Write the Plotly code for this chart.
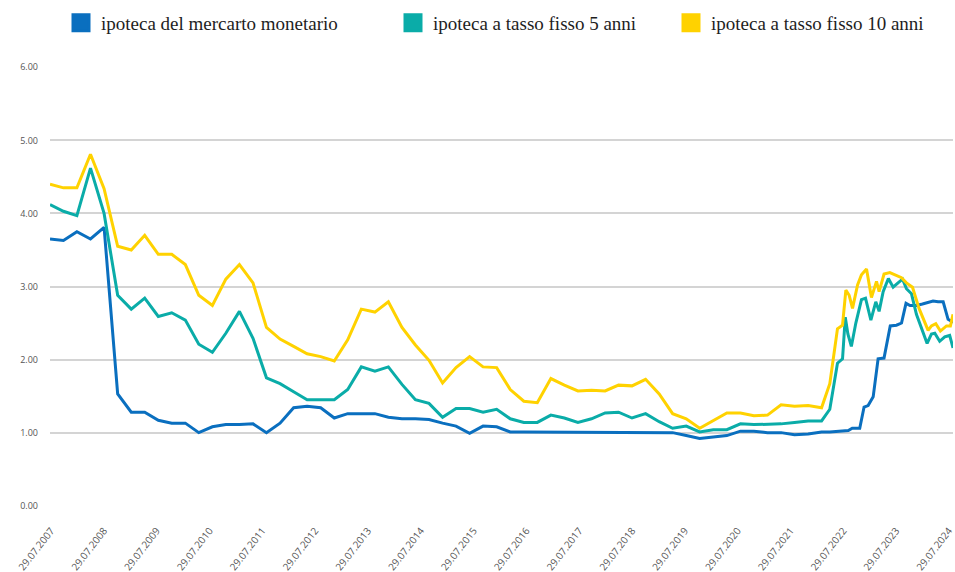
import plotly.graph_objects as go

# ---- data ----
quarter_dates = [
    "2007-07-29", "2007-10-30", "2008-01-31", "2008-05-04", "2008-08-06", "2008-11-08",
    "2009-02-10", "2009-05-14", "2009-08-16", "2009-11-17", "2010-02-19", "2010-05-23",
    "2010-08-25", "2010-11-26", "2011-02-28", "2011-06-02", "2011-09-03", "2011-12-06",
    "2012-03-09", "2012-06-10", "2012-09-12", "2012-12-15", "2013-03-18", "2013-06-20",
    "2013-09-22", "2013-12-24", "2014-03-28", "2014-06-29", "2014-10-01", "2015-01-03",
    "2015-04-06", "2015-07-09", "2015-10-10", "2016-01-12", "2016-04-15", "2016-07-18",
    "2016-10-19", "2017-01-21", "2017-04-24", "2017-07-27", "2017-10-29", "2018-01-31",
    "2018-05-04", "2018-08-05", "2018-11-07", "2019-02-09", "2019-05-13", "2019-08-15",
    "2019-11-16", "2020-02-18", "2020-05-22", "2020-08-24", "2020-11-25", "2021-02-27",
    "2021-06-01", "2021-09-02", "2021-12-05", "2022-03-08",
]

money_q = [
    3.65, 3.63, 3.75, 3.65, 3.81, 1.53, 1.28, 1.28, 1.17, 1.13, 1.13, 1.00, 1.08, 1.11, 1.11,
    1.12, 1.00, 1.13, 1.34, 1.36, 1.34, 1.20, 1.26, 1.26, 1.26, 1.21, 1.19, 1.19, 1.18, 1.13,
    1.09, 0.99, 1.09, 1.08, 1.01, 1.01, 1.01, 1.01, 1.01, 1.00, 1.00, 1.00, 1.00, 1.00, 1.00, 1.00,
    1.00, 0.96, 0.92, 0.94, 0.96, 1.02, 1.02, 1.00, 1.00, 0.97, 0.98, 1.01,
]
fixed5_q = [
    4.12, 4.03, 3.97, 4.62, 4.00, 2.88, 2.69, 2.84, 2.59, 2.64, 2.54, 2.21, 2.10, 2.36, 2.66,
    2.29, 1.75, 1.67, 1.56, 1.45, 1.45, 1.45, 1.59, 1.90, 1.84, 1.90, 1.66, 1.45, 1.40, 1.21,
    1.33, 1.33, 1.28, 1.32, 1.19, 1.14, 1.14, 1.24, 1.20, 1.14, 1.19, 1.27, 1.28, 1.20, 1.26, 1.15,
    1.06, 1.09, 1.01, 1.04, 1.04, 1.12, 1.11, 1.11, 1.12, 1.14, 1.16, 1.16,
]
fixed10_q = [
    4.40, 4.35, 4.35, 4.81, 4.34, 3.55, 3.50, 3.70, 3.44, 3.44, 3.30, 2.88, 2.74, 3.10, 3.30,
    3.05, 2.44, 2.28, 2.18, 2.08, 2.04, 1.98, 2.27, 2.69, 2.65, 2.79, 2.44, 2.20, 1.99, 1.68,
    1.89, 2.04, 1.90, 1.89, 1.59, 1.43, 1.41, 1.74, 1.65, 1.57, 1.58, 1.57, 1.65, 1.64, 1.73, 1.53,
    1.26, 1.19, 1.06, 1.17, 1.27, 1.27, 1.23, 1.24, 1.38, 1.36, 1.37, 1.34,
]

money_recent_dates = [
    "2022-05-04", "2022-09-09", "2022-10-06", "2022-11-27", "2022-12-27", "2023-01-24",
    "2023-02-28", "2023-04-03", "2023-05-14", "2023-06-26", "2023-08-08", "2023-09-12",
    "2023-10-13", "2023-11-10", "2023-12-24", "2024-02-04", "2024-03-14", "2024-04-17",
    "2024-05-22", "2024-06-26", "2024-07-30", "2024-09-02",
]
money_recent = [
    1.01, 1.03, 1.06, 1.06, 1.35, 1.37, 1.49, 2.01, 2.02, 2.46, 2.47, 2.50,
    2.77, 2.74, 2.74, 2.76, 2.78, 2.80, 2.79, 2.79, 2.55, 2.51,
]

fixed5_recent_dates = [
    "2022-05-04", "2022-06-26", "2022-07-31", "2022-08-19", "2022-09-06", "2022-09-30",
    "2022-10-31", "2022-12-09", "2023-01-06", "2023-02-12", "2023-03-18", "2023-04-10",
    "2023-05-08", "2023-06-13", "2023-07-16", "2023-08-19", "2023-09-19", "2023-10-16",
    "2023-11-20", "2023-12-24", "2024-02-04", "2024-03-07", "2024-04-06", "2024-04-29",
    "2024-06-02", "2024-07-07", "2024-08-10", "2024-09-02",
]
fixed5_recent = [
    1.32, 1.95, 2.01, 2.58, 2.35, 2.18, 2.50, 2.82, 2.84, 2.54, 2.79, 2.66,
    2.93, 3.11, 2.99, 3.05, 3.10, 2.97, 2.90, 2.62, 2.39, 2.22, 2.35, 2.36,
    2.25, 2.31, 2.33, 2.16,
]

fixed10_recent_dates = [
    "2022-05-04", "2022-06-26", "2022-07-31", "2022-08-23", "2022-09-15", "2022-10-08",
    "2022-11-12", "2022-12-09", "2023-01-13", "2023-02-16", "2023-03-23", "2023-04-10",
    "2023-05-14", "2023-06-23", "2023-08-03", "2023-09-12", "2023-10-16", "2023-11-27",
    "2024-01-11", "2024-03-14", "2024-04-06", "2024-05-06", "2024-06-07", "2024-07-19",
    "2024-08-15", "2024-09-02",
]
fixed10_recent = [
    1.67, 2.42, 2.47, 2.95, 2.88, 2.70, 3.02, 3.16, 3.24, 2.85, 3.07, 2.93,
    3.17, 3.19, 3.16, 3.12, 3.05, 2.99, 2.70, 2.40, 2.46, 2.49, 2.39, 2.46,
    2.46, 2.62,
]

series_names = [
    "ipoteca del mercarto monetario",
    "ipoteca a tasso fisso 5 anni",
    "ipoteca a tasso fisso 10 anni",
]
series_colors = ["#0a6fbf", "#0aaca8", "#ffd200"]

tick_dates = [f"{y}-07-29" for y in range(2007, 2025)]
tick_labels = [f"29.07.{y}" for y in range(2007, 2025)]
y_ticks = [0, 1, 2, 3, 4, 5, 6]

series = [
    (quarter_dates + money_recent_dates, money_q + money_recent),
    (quarter_dates + fixed5_recent_dates, fixed5_q + fixed5_recent),
    (quarter_dates + fixed10_recent_dates, fixed10_q + fixed10_recent),
]

W, H = 955, 572

fig = go.Figure()
legend_ids = ["legend", "legend2", "legend3"]
for (xs, ys), name, color in zip(series, series_names, series_colors):
    fig.add_trace(go.Scatter(
        x=xs, y=ys, mode="lines", name=name, showlegend=False,
        line=dict(color=color, width=3), hoverinfo="x+y+name",
    ))
# legend entries as coloured squares
for name, color, lid in zip(series_names, series_colors, legend_ids):
    fig.add_trace(go.Scatter(
        x=[None], y=[None], mode="markers", name=name, legend=lid,
        marker=dict(symbol="square", size=16, color=color,
                    line=dict(color=color, width=3)),
    ))

legend_font = dict(family="Liberation Serif", size=19, color="#1e1e1e")
legend_common = dict(orientation="h", xref="container", yref="container",
                     yanchor="middle", font=legend_font, itemsizing="trace",
                     bgcolor="rgba(0,0,0,0)", borderwidth=0)
legend_y = 1 - 23 / H

fig.update_layout(
    width=W, height=H,
    margin=dict(l=50, r=2, t=67, b=66, autoexpand=False),
    paper_bgcolor="white", plot_bgcolor="white",
    font=dict(family="Open Sans", size=9, color="#555555"),
    legend=dict(x=61 / W, y=legend_y, **legend_common),
    legend2=dict(x=393 / W, y=legend_y, **legend_common),
    legend3=dict(x=671 / W, y=legend_y, **legend_common),
    xaxis=dict(
        type="date",
        range=["2007-07-29", "2024-09-02"],
        tickvals=tick_dates, ticktext=tick_labels,
        tickangle=-52, showgrid=False, showline=False, zeroline=False,
        ticks="", ticklabelstandoff=16, ticklabelshift=1,
        ticklabeloverflow="allow",
        tickfont=dict(family="Open Sans", size=10, color="#555555"),
    ),
    yaxis=dict(
        range=[-0.004, 6.004], tickvals=y_ticks, tickformat=".2f",
        showgrid=True, gridcolor="#d4d4d4", gridwidth=1.5,
        zeroline=False, showline=False, ticks="",
        ticklabelstandoff=11,
        tickfont=dict(family="Open Sans", size=9, color="#555555"),
    ),
)

fig.write_html(
    "out.html",
    config={"displayModeBar": False},
    post_script="document.body.style.margin='0';document.body.style.overflow='hidden';",
)
